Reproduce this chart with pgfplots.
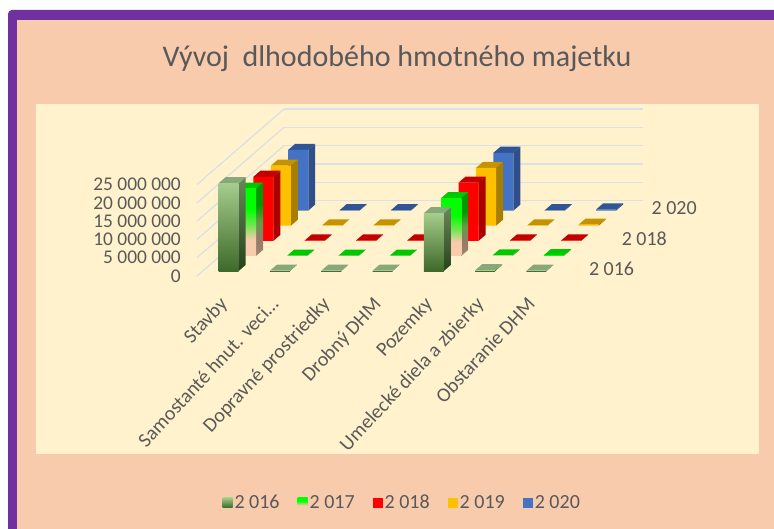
\documentclass[border=0pt]{standalone}
\usepackage{pgfplots}
\usepackage{pgfplotstable}
\usepackage{fontspec}
\setmainfont{Carlito}
\pgfplotsset{compat=1.18}
\definecolor{frame}{HTML}{7030A0}
\definecolor{peach}{HTML}{F8CBAD}
\definecolor{cream}{HTML}{FFF2CC}
\definecolor{txt}{HTML}{595959}
\definecolor{gridc}{HTML}{D8E0E8}
\definecolor{gtop}{RGB}{165,205,140}
\definecolor{gbot}{RGB}{62,105,42}
\definecolor{gstop}{RGB}{105,135,90}
\definecolor{gsbot}{RGB}{38,66,26}
\definecolor{gcap}{RGB}{135,168,120}
\definecolor{lcap}{RGB}{0,200,0}
\definecolor{rfront}{RGB}{255,0,0}
\definecolor{rside}{RGB}{170,0,0}
\definecolor{rcap}{RGB}{195,0,0}
\definecolor{yfront}{RGB}{255,192,0}
\definecolor{yside}{RGB}{168,126,0}
\definecolor{ycap}{RGB}{198,146,0}
\definecolor{bfront}{RGB}{68,114,196}
\definecolor{bside}{RGB}{46,79,138}
\definecolor{bcap}{RGB}{47,85,151}

% values in millions of EUR, one row per category
\pgfplotstableread{
cat a b c d e
0 24.0 18.4 17.5 16.4 16.6
1 0.08 0.10 0.10 0.10 0.10
2 0.08 0.10 0.10 0.10 0.10
3 0.08 0.10 0.10 0.10 0.10
4 15.8 15.8 15.9 15.8 15.8
5 0.20 0.15 0.10 0.10 0.10
6 0.08 0.20 0.10 0.30 0.30
}\datatable

\pgfdeclareverticalshading{fadegreen}{100bp}{
  color(0bp)=(peach); color(25bp)=(peach); color(37bp)=(peach);
  color(48bp)=(green!55!peach); color(60bp)=(green); color(100bp)=(green)}
\pgfdeclareverticalshading{fadeside}{100bp}{
  color(0bp)=(black!35!peach); color(25bp)=(black!35!peach); color(37bp)=(black!40!peach);
  color(48bp)=(green!50!black!60!peach); color(60bp)=(green!60!black); color(100bp)=(green!60!black)}
\pgfplotsset{
  f0/.style={top color=gtop,bottom color=gbot},
  s0/.style={top color=gstop,bottom color=gsbot},
  t0/.style={fill=gcap},
  f1/.style={shade,shading=fadegreen},
  s1/.style={shade,shading=fadeside},
  t1/.style={fill=lcap},
  f2/.style={fill=rfront},
  s2/.style={fill=rside},
  t2/.style={fill=rcap},
  f3/.style={fill=yfront},
  s3/.style={fill=yside},
  t3/.style={fill=ycap},
  f4/.style={fill=bfront},
  s4/.style={fill=bside},
  t4/.style={fill=bcap},
}

% one bar: #1 category, #2 series, #3 value, #4/#5/#6 face styles
\newcommand\barbox[6]{%
  \pgfmathsetmacro\xa{#1+0.31}\pgfmathsetmacro\xb{#1+0.70}%
  \pgfmathsetmacro\ya{#2+0.33}\pgfmathsetmacro\yb{#2+0.73}%
  \addplot3[forget plot,draw=none,mark=none,#5] coordinates
    {(\xb,\ya,0) (\xb,\yb,0) (\xb,\yb,#3) (\xb,\ya,#3) (\xb,\ya,0)};
  \addplot3[forget plot,draw=none,mark=none,#6] coordinates
    {(\xa,\ya,#3) (\xb,\ya,#3) (\xb,\yb,#3) (\xa,\yb,#3) (\xa,\ya,#3)};
  \addplot3[forget plot,draw=none,mark=none,#4] coordinates
    {(\xa,\ya,0) (\xb,\ya,0) (\xb,\ya,#3) (\xa,\ya,#3) (\xa,\ya,0)};
}
% whole series from its column in the table
\newcommand\seriesbars[5]{%
  \pgfplotsforeachungrouped \i in {0,...,6}{%
    \pgfplotstablegetelem{\i}{#2}\of\datatable
    \let\val\pgfplotsretval
    \barbox{\i}{#1}{\val}{#3}{#4}{#5}%
  }%
}

\begin{document}
\begin{tikzpicture}[x=1pt,y=1pt]
\useasboundingbox (0,0) rectangle (774,528);
\fill[white] (0,0) rectangle (774,528);
\fill[frame,rounded corners=4pt] (8,-10) rectangle (790,518);
\fill[peach] (17,-10) rectangle (790,508);
\fill[cream] (36,74) rectangle (759,424);
\node[text=txt,font=\fontsize{30}{32}\selectfont] at (397,469) {Vývoj\ \ dlhodobého hmotného majetku};

\begin{axis}[
  at={(197pt,252pt)},anchor=origin,
  x={(51.3pt,0pt)},y={(17.4pt,15.1pt)},z={(0pt,3.66pt)},
  xmin=0,xmax=7,ymin=0,ymax=5,zmin=0,zmax=25,
  clip=false,
  axis line style={draw=none},
  major tick length=0pt,
  zmajorgrids=true,
  major grid style={draw=gridc,line width=1.2pt},
  xtick={0.5,1.5,2.5,3.5,4.5,5.5,6.5},
  xticklabels={Stavby,Samostanté hnut. veci\ldots\hspace{-38pt},Dopravné prostriedky,Drobný DHM,Pozemky,Umelecké diela a zbierky,Obstaranie DHM},
  ytick={0.5,2.5,4.5},
  yticklabels={\hspace{2pt}2 016,2 018,\hspace{-5pt}2 020},
  ztick={0,5,10,15,20,25},
  zticklabels={0,5 000 000,10 000 000,15 000 000,20 000 000,25 000 000},
  tick label style={text=txt},
  xticklabel style={rotate=47,anchor=north east,inner sep=0pt,xshift=-17.5pt,yshift=-10pt,font=\fontsize{20}{22}\selectfont},
  yticklabel style={anchor=west,inner sep=0pt,xshift=22pt,font=\fontsize{20}{22}\selectfont},
  zticklabel style={anchor=east,inner sep=0pt,xshift=-16pt,font=\fontsize{19.4}{21}\selectfont},
  legend columns=5,
  legend style={draw=none,fill=none,at={(0.46,-1.357)},anchor=center,
    font=\fontsize{20}{22}\selectfont,text=txt,
    /tikz/every even column/.style={column sep=16pt}},
]
\addlegendimage{legend image code/.code={\path[draw=none,top color=gtop,bottom color=gbot] (0pt,-5pt) rectangle (10pt,5pt);}}
\addlegendentry{2 016}
\addlegendimage{legend image code/.code={\path[draw=none,shade,shading=fadegreen] (0pt,-5pt) rectangle (10pt,5pt);}}
\addlegendentry{2 017}
\addlegendimage{legend image code/.code={\fill[draw=none,rfront] (0pt,-5pt) rectangle (10pt,5pt);}}
\addlegendentry{2 018}
\addlegendimage{legend image code/.code={\fill[draw=none,yfront] (0pt,-5pt) rectangle (10pt,5pt);}}
\addlegendentry{2 019}
\addlegendimage{legend image code/.code={\fill[draw=none,bfront] (0pt,-5pt) rectangle (10pt,5pt);}}
\addlegendentry{2 020}

\seriesbars{4}{e}{f4}{s4}{t4}
\seriesbars{3}{d}{f3}{s3}{t3}
\seriesbars{2}{c}{f2}{s2}{t2}
\seriesbars{1}{b}{f1}{s1}{t1}
\seriesbars{0}{a}{f0}{s0}{t0}
\end{axis}
\end{tikzpicture}
\end{document}
